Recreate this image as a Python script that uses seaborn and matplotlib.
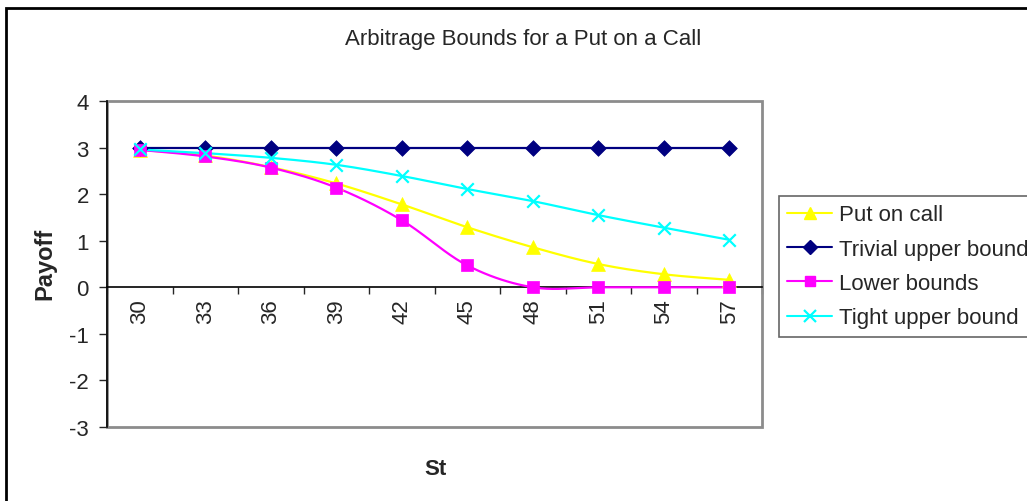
import numpy as np
import pandas as pd
import matplotlib
matplotlib.use("Agg")
import matplotlib.pyplot as plt
from matplotlib.lines import Line2D
from matplotlib.patches import Rectangle
import seaborn as sns

# ---- data ----
st = [30, 33, 36, 39, 42, 45, 48, 51, 54, 57]
put_on_call = [2.95, 2.83, 2.58, 2.23, 1.78, 1.29, 0.86, 0.50, 0.28, 0.16]
trivial_upper = [3, 3, 3, 3, 3, 3, 3, 3, 3, 3]
lower_bounds = [2.95, 2.81, 2.57, 2.14, 1.44, 0.47, 0.0, 0.0, 0.0, 0.0]
tight_upper = [2.96, 2.88, 2.78, 2.63, 2.39, 2.11, 1.85, 1.55, 1.28, 1.02]
y_ticks = [-3, -2, -1, 0, 1, 2, 3, 4]

series = [
    ("Put on call", put_on_call, "#FFFF00", "^", 10),
    ("Trivial upper bound", trivial_upper, "#000080", "D", 8),
    ("Lower bounds", lower_bounds, "#FF00FF", "s", 8),
    ("Tight upper bound", tight_upper, "#00FFFF", "x", 9),
]

FS = 16


def smooth(xs, ys, n=24):
    """Bezier smoothing through every point (Catmull-Rom style control points)."""
    p = np.column_stack([xs, ys]).astype(float)
    ext = np.vstack([p[0], p, p[-1]])
    out = []
    t = np.linspace(0, 1, n)[:, None]
    for i in range(1, len(ext) - 2):
        p0, p1, p2, p3 = ext[i - 1], ext[i], ext[i + 1], ext[i + 2]
        c1 = p1 + (p2 - p0) / 6.0
        c2 = p2 - (p3 - p1) / 6.0
        seg = ((1 - t) ** 3) * p1 + 3 * ((1 - t) ** 2) * t * c1 + 3 * (1 - t) * t ** 2 * c2 + t ** 3 * p2
        out.append(seg if i == 1 else seg[1:])
    out = np.vstack(out)
    return out[:, 0], out[:, 1]


sns.set_style("white")
plt.rcParams["font.family"] = ["Liberation Sans", "DejaVu Sans"]

W, H = 1027, 502
fig = plt.figure(figsize=(W / 100, H / 100), dpi=100)
fig.patch.set_facecolor("white")

# outer chart border
fig.patches.append(Rectangle((6 / W, -0.1), 2.0, 1 - 9 / H + 0.1, transform=fig.transFigure,
                             fill=False, ec="black", lw=2, zorder=0))

ax = fig.add_axes([107 / W, (H - 428) / H, 655 / W, 326 / H])
ax.set_facecolor("white")

pos = np.arange(len(st))
for label, vals, color, marker, ms in series:
    sx, sy = smooth(pos, vals)
    df_line = pd.DataFrame({"x": sx, "y": sy})
    sns.lineplot(data=df_line, x="x", y="y", ax=ax, color=color, lw=1.6, sort=False,
                 estimator=None, zorder=3)
    df_pts = pd.DataFrame({"x": pos, "y": vals})
    if marker == "x":
        sns.scatterplot(data=df_pts, x="x", y="y", ax=ax, color=color, marker=marker,
                        s=ms ** 2, linewidth=1.6, zorder=4)
    else:
        sns.scatterplot(data=df_pts, x="x", y="y", ax=ax, color=color, marker=marker,
                        s=ms ** 2, edgecolor=color, linewidth=0.5, zorder=4)

ax.set_xlim(-0.5, len(st) - 0.5)
ax.set_ylim(-3, 4)

# plot-area frame (gray) with axis lines (black)
ax.add_patch(Rectangle((0, 0), 1, 1, transform=ax.transAxes, fill=False,
                       ec="#8c8c8c", lw=2, zorder=1, clip_on=False))
for s in ["top", "right"]:
    ax.spines[s].set_visible(False)
ax.spines["left"].set_color("black")
ax.spines["left"].set_linewidth(1.2)
ax.spines["left"].set_zorder(2)
ax.spines["bottom"].set_position(("data", 0))
ax.spines["bottom"].set_color("black")
ax.spines["bottom"].set_linewidth(1.2)

ax.set_yticks(y_ticks)
ax.set_yticklabels([str(v) for v in y_ticks], fontsize=FS)
ax.tick_params(axis="y", direction="out", length=6, width=1, pad=7, left=True)

ax.set_xticks(pos)
ax.set_xticklabels([str(v) for v in st], rotation=90, fontsize=FS, va="top", ha="center")
ax.set_xticks(np.arange(-0.5, len(st), 1.0), minor=True)
ax.tick_params(axis="x", which="major", length=0, pad=8, bottom=True)
ax.tick_params(axis="x", which="minor", direction="out", length=5, width=1, bottom=True)

ax.set_xlabel("")
ax.set_ylabel("")
fig.text(435 / W, 1 - 470 / H, "St", fontsize=FS, fontweight="bold", ha="center", va="center")
fig.text(45 / W, 1 - 264 / H, "Payoff", fontsize=FS + 1, fontweight="bold", ha="center",
         va="center", rotation=90)
fig.text(523 / W, 1 - 40 / H, "Arbitrage Bounds for a Put on a Call", fontsize=FS,
         ha="center", va="center")

handles = []
for label, vals, color, marker, ms in series:
    if marker == "x":
        h = Line2D([], [], color=color, lw=1.5, marker=marker, markersize=ms * 0.9,
                   markeredgewidth=1.6)
    else:
        h = Line2D([], [], color=color, lw=1.5, marker=marker, markersize=ms * 0.9,
                   markerfacecolor=color, markeredgecolor=color)
    handles.append(h)
leg = fig.legend(handles, [s[0] for s in series], loc="upper left",
                 bbox_to_anchor=(779 / W, 1 - 197 / H), frameon=True, fancybox=False,
                 edgecolor="#404040", fontsize=FS, handlelength=2.0, handletextpad=0.3,
                 labelspacing=0.6, borderpad=0.38, borderaxespad=0)
leg.get_frame().set_linewidth(1.2)

fig.savefig("out.png", dpi=100, facecolor="white")
